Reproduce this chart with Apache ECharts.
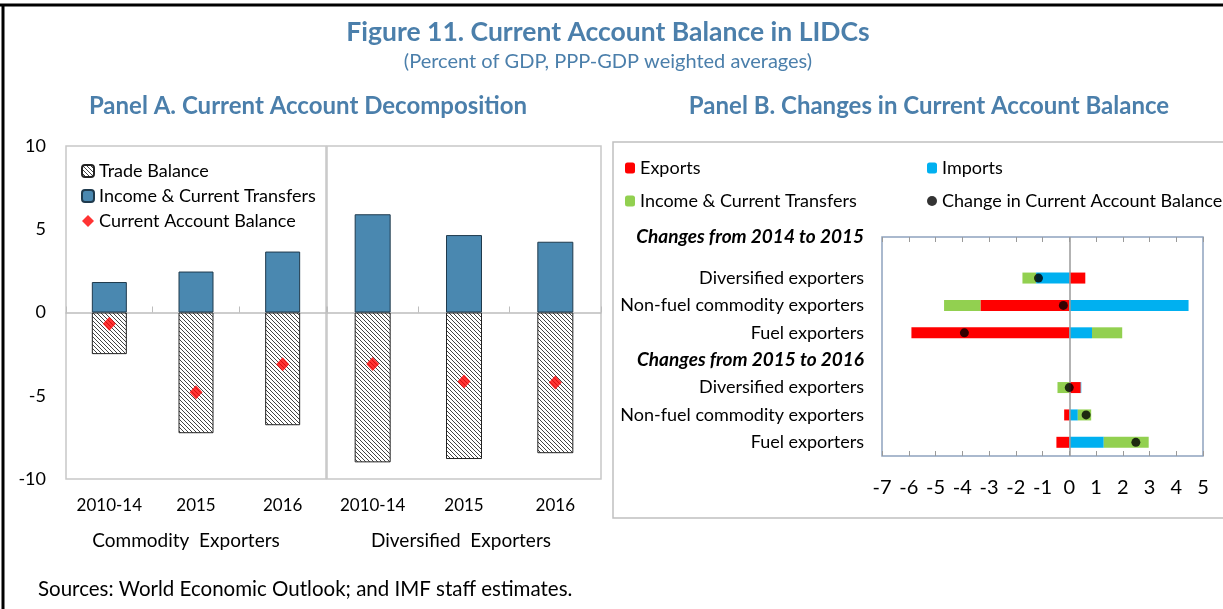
<!DOCTYPE html>
<html>
<head>
<meta charset="utf-8">
<script src="https://cdn.jsdelivr.net/npm/echarts@6/dist/echarts.min.js"></script>
<style>
  html, body { margin: 0; padding: 0; background: #fff; }
  #main { width: 1223px; height: 609px; }
</style>
</head>
<body>
<div id="main"></div>
<script>
// Panel A data
const periods = ['2010-14', '2015', '2016']
const commTrade = [-2.5, -7.25, -6.77]
const commIncome = [1.83, 2.46, 3.66]
const commCA = [-0.67, -4.79, -3.11]
const divTrade = [-9.0, -8.8, -8.45]
const divIncome = [5.9, 4.65, 4.25]
const divCA = [-3.1, -4.15, -4.2]
const panelAYTicks = {min: -10, max: 10, interval: 5}

// Panel B data
const rowsB = [
  'Changes from 2014 to 2015',
  'Diversified exporters',
  'Non-fuel commodity exporters',
  'Fuel exporters',
  'Changes from 2015 to 2016',
  'Diversified exporters ',
  'Non-fuel commodity exporters ',
  'Fuel exporters '
]
const exportsB = ['-', 0.6, -3.32, -5.9, '-', 0.43, -0.19, -0.48]
const importsB = ['-', -1.24, 4.46, 0.85, '-', 0.02, 0.32, 1.29]
const incomeB = ['-', -0.51, -1.36, 1.13, '-', -0.44, 0.5, 1.68]
const changeCAB = ['-', -1.15, -0.22, -3.92, '-', 0.0, 0.63, 2.49]
const panelBXTicks = {min: -7, max: 5, interval: 1}

const FONT = 'Lato'
const TITLE_BLUE = '#4b7fab'

function hatchPattern() {
  const c = document.createElement('canvas')
  c.width = 4
  c.height = 4
  const g = c.getContext('2d')
  g.fillStyle = '#fff'
  g.fillRect(0, 0, 4, 4)
  g.strokeStyle = '#444'
  g.lineWidth = 1
  g.beginPath()
  g.moveTo(-1, -1); g.lineTo(5, 5)
  g.moveTo(-1, 3); g.lineTo(1, 5)
  g.moveTo(3, -1); g.lineTo(5, 1)
  g.stroke()
  return c
}
const hatch = {image: hatchPattern(), repeat: 'repeat'}

const chart = echarts.init(document.getElementById('main'))

const zeroAxis = (gridIndex) => ({
  type: 'category', gridIndex, data: periods,
  axisLine: {onZero: true, lineStyle: {color: '#bdbdbd', width: 1.5}},
  axisTick: {show: true, inside: true, length: 6, lineStyle: {color: '#bdbdbd'}},
  axisLabel: {show: false}
})
const labelAxis = (gridIndex) => ({
  type: 'category', gridIndex, data: periods, position: 'bottom',
  axisLine: {show: false, onZero: false}, axisTick: {show: false},
  axisLabel: {interval: 0, margin: 18, fontSize: 17, color: '#000', fontFamily: FONT}
})

const panelASeries = (xi, yi, stack, trade, income, ca, bw) => [
  {name: 'Trade Balance', type: 'bar', xAxisIndex: xi, yAxisIndex: yi, stack, barWidth: bw,
    data: trade, itemStyle: {color: hatch, borderColor: '#222', borderWidth: 1}},
  {name: 'Income & Current Transfers', type: 'bar', xAxisIndex: xi, yAxisIndex: yi, stack, barWidth: bw,
    data: income, itemStyle: {color: '#4a88b0', borderColor: '#1f3a4d', borderWidth: 1}},
  {name: 'Current Account Balance', type: 'scatter', xAxisIndex: xi, yAxisIndex: yi,
    symbol: 'diamond', symbolSize: [13, 14], data: ca, itemStyle: {color: '#ff0000'}, z: 5}
]

chart.setOption({
  animation: false,
  textStyle: {fontFamily: FONT},
  grid: [
    {left: 66, top: 146, width: 260, height: 333, show: true, borderColor: '#c8c8c8', borderWidth: 1.5},
    {left: 327, top: 146, width: 274, height: 333, show: true, borderColor: '#c8c8c8', borderWidth: 1.5},
    {left: 882, top: 237, width: 321, height: 219, show: true, borderColor: '#8ea3bf', borderWidth: 1.5}
  ],
  legend: [
    {data: ['Trade Balance', 'Income & Current Transfers', 'Current Account Balance'],
      orient: 'vertical', left: 76, top: 157, itemGap: 7, itemWidth: 12, itemHeight: 12,
      textStyle: {fontSize: 18, color: '#000'}, selectedMode: false},
    {data: ['Exports', 'Income & Current Transfers '],
      orient: 'vertical', left: 620, top: 154, itemGap: 15, itemWidth: 10, itemHeight: 11,
      textStyle: {fontSize: 18, color: '#000'}, selectedMode: false},
    {data: ['Imports', 'Change in Current Account Balance'],
      orient: 'vertical', left: 922, top: 154, itemGap: 15, itemWidth: 10, itemHeight: 11,
      textStyle: {fontSize: 18, color: '#000'}, selectedMode: false}
  ],
  xAxis: [
    zeroAxis(0), labelAxis(0), zeroAxis(1), labelAxis(1),
    {type: 'value', gridIndex: 2, position: 'bottom', ...panelBXTicks,
      axisLine: {show: false}, splitLine: {show: false},
      axisTick: {show: true, inside: true, length: 5, lineStyle: {color: '#9a9a9a'}},
      axisLabel: {margin: 22, fontSize: 20, color: '#000'}},
    {type: 'value', gridIndex: 2, position: 'top', ...panelBXTicks,
      axisLine: {show: false}, splitLine: {show: false},
      axisTick: {show: true, inside: true, length: 5, lineStyle: {color: '#9a9a9a'}},
      axisLabel: {show: false}}
  ],
  yAxis: [
    {type: 'value', gridIndex: 0, ...panelAYTicks,
      axisLine: {show: false}, axisTick: {show: false}, splitLine: {show: false},
      axisLabel: {margin: 20, fontSize: 18, color: '#000'}},
    {type: 'value', gridIndex: 1, ...panelAYTicks, show: false, splitLine: {show: false}},
    {type: 'category', gridIndex: 2, data: rowsB, inverse: true,
      axisLine: {show: false}, axisTick: {show: false},
      axisLabel: {
        margin: 18, fontSize: 18, color: '#000',
        formatter: (v, i) => {
          if (i === 0) return '{h1|' + v + '}'
          if (i === 4) return '{h|' + v + '}'
          return v.trim()
        },
        rich: {
          h: {fontWeight: 'bold', fontStyle: 'italic', fontSize: 19, color: '#000'},
          h1: {fontWeight: 'bold', fontStyle: 'italic', fontSize: 19, color: '#000', padding: [0, 0, 28, 0]}
        }
      }}
  ],
  series: [
    ...panelASeries(0, 0, 'comm', commTrade, commIncome, commCA, 35),
    ...panelASeries(2, 1, 'div', divTrade, divIncome, divCA, 36),
    {name: 'Exports', type: 'bar', xAxisIndex: 4, yAxisIndex: 2, stack: 'b', barWidth: 11,
      data: exportsB, itemStyle: {color: '#ff0000'},
      markLine: {silent: true, symbol: 'none', label: {show: false},
        lineStyle: {color: '#9a9a9a', type: 'solid', width: 1.5}, data: [{xAxis: 0}]}},
    {name: 'Imports', type: 'bar', xAxisIndex: 4, yAxisIndex: 2, stack: 'b', barWidth: 11,
      data: importsB, itemStyle: {color: '#00b0f0'}},
    {name: 'Income & Current Transfers ', type: 'bar', xAxisIndex: 4, yAxisIndex: 2, stack: 'b', barWidth: 11,
      data: incomeB, itemStyle: {color: '#92d050'}},
    {name: 'Change in Current Account Balance', type: 'scatter', xAxisIndex: 4, yAxisIndex: 2,
      symbol: 'circle', symbolSize: 9, data: changeCAB, itemStyle: {color: '#000'}, z: 5}
  ],
  graphic: [
    {type: 'line', shape: {x1: 0, y1: 5, x2: 1223, y2: 5}, style: {stroke: '#000', lineWidth: 3}},
    {type: 'line', shape: {x1: 3, y1: 5, x2: 3, y2: 609}, style: {stroke: '#000', lineWidth: 3}},
    {type: 'rect', shape: {x: 613, y: 142, width: 620, height: 376}, style: {fill: 'none', stroke: '#c0c0c0', lineWidth: 1.5}, z: -1},
    {type: 'text', x: 608, y: 32, style: {text: 'Figure 11. Current Account Balance in LIDCs',
      font: 'bold 26.5px ' + FONT, fill: TITLE_BLUE, textAlign: 'center', textVerticalAlign: 'middle'}},
    {type: 'text', x: 608, y: 62, style: {text: '(Percent of GDP, PPP-GDP weighted averages)',
      font: '20px ' + FONT, fill: TITLE_BLUE, textAlign: 'center', textVerticalAlign: 'middle'}},
    {type: 'text', x: 308, y: 106, style: {text: 'Panel A. Current Account Decomposition',
      font: 'bold 24px ' + FONT, fill: TITLE_BLUE, textAlign: 'center', textVerticalAlign: 'middle'}},
    {type: 'text', x: 929, y: 106, style: {text: 'Panel B. Changes in Current Account Balance',
      font: 'bold 24px ' + FONT, fill: TITLE_BLUE, textAlign: 'center', textVerticalAlign: 'middle'}},
    {type: 'text', x: 186, y: 541, style: {text: 'Commodity  Exporters',
      font: '19px ' + FONT, fill: '#000', textAlign: 'center', textVerticalAlign: 'middle'}},
    {type: 'text', x: 461, y: 541, style: {text: 'Diversified  Exporters',
      font: '19px ' + FONT, fill: '#000', textAlign: 'center', textVerticalAlign: 'middle'}},
    {type: 'text', x: 38, y: 589, style: {text: 'Sources: World Economic Outlook; and IMF staff estimates.',
      font: '20.5px ' + FONT, fill: '#000', textAlign: 'left', textVerticalAlign: 'middle'}}
  ]
})
</script>
</body>
</html>
